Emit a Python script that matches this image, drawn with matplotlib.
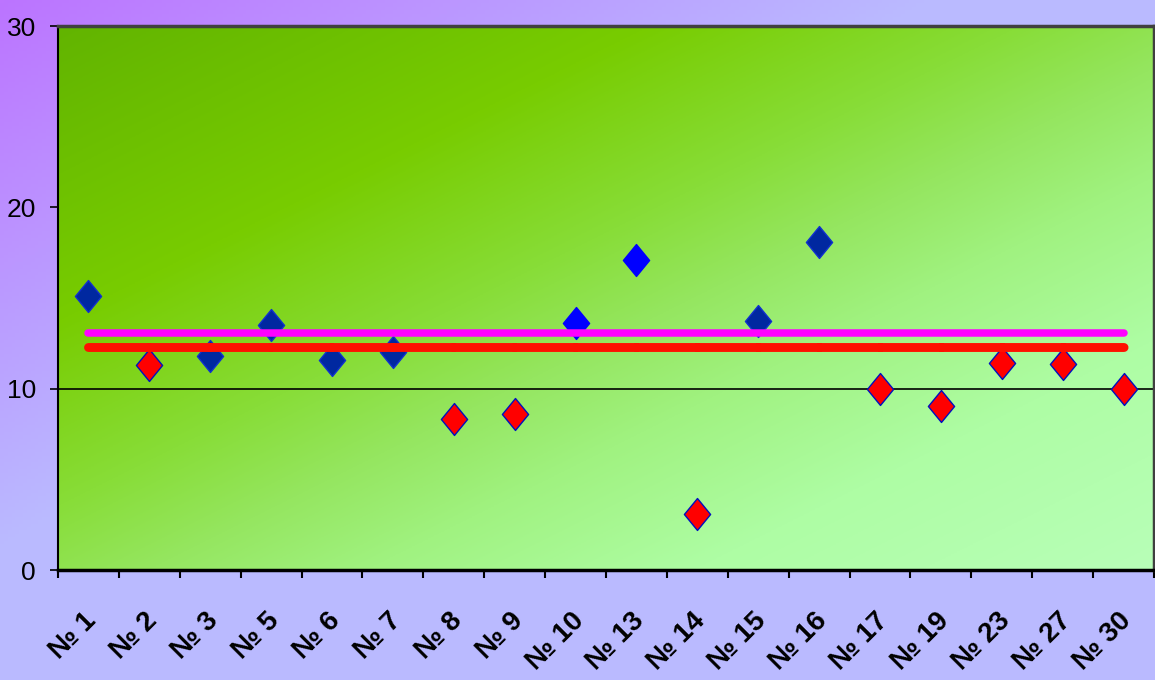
import numpy as np
import matplotlib
matplotlib.use('Agg')
from matplotlib import pyplot as plt
from matplotlib.path import Path
from matplotlib.transforms import ScaledTranslation

plt.rcParams['font.family'] = ['Liberation Sans', 'DejaVu Sans']
plt.rcParams['lines.scale_dashes'] = False

categories = ['№ 1', '№ 2', '№ 3', '№ 5', '№ 6', '№ 7', '№ 8', '№ 9', '№ 10',
              '№ 13', '№ 14', '№ 15', '№ 16', '№ 17', '№ 19', '№ 23', '№ 27', '№ 30']
values = [15.1, 11.3, 11.8, 13.5, 11.6, 12.0, 8.3, 8.6, 13.6,
          17.1, 3.1, 13.75, 18.1, 10.0, 9.05, 11.4, 11.35, 10.0]
# группа маркера: 'dark', 'bright', 'red'
groups = ['dark', 'red', 'dark', 'dark', 'dark', 'dark', 'red', 'red', 'bright',
          'bright', 'red', 'dark', 'dark', 'red', 'red', 'red', 'red', 'red']
level_top = 13.05
level_low = 12.28
y_ticks = [0, 10, 20, 30]

W, H = 1155, 680
fig = plt.figure(figsize=(W / 100, H / 100), dpi=100)

# фон рисунка: фиолетовый в левом верхнем углу -> лавандовый
bg = fig.add_axes([0, 0, 1, 1], zorder=-10)
gx, gy = np.meshgrid(np.linspace(0, 1, 300), np.linspace(0, 1, 200))
t = np.clip((gx + gy) / 0.8, 0, 1)[..., None]
purple = np.array([188, 116, 255]) / 255
lav = np.array([186, 186, 255]) / 255
bg.imshow(purple * (1 - t) + lav * t, aspect='auto', extent=(0, 1, 1, 0))
bg.axis('off')

ax = fig.add_axes([58 / W, 1 - 570 / H, 1096 / W, 544 / H])
ax.set_xlim(-0.5, len(categories) - 0.5)
ax.set_ylim(0, 30)

# градиент области построения
px, py = np.meshgrid(np.linspace(0, 1096, 400), np.linspace(0, 544, 200))
s = (px + 2 * py) / (1096 + 2 * 544)
stops = [0.0, 0.27, 0.44, 0.54, 0.64, 0.79, 1.0]
cols = np.array([[0x62, 0xB4, 0x00], [0x78, 0xCC, 0x00], [0x88, 0xDD, 0x38],
                 [0x95, 0xE6, 0x60], [0xA0, 0xF2, 0x80], [0xAE, 0xFD, 0xA4],
                 [0xB8, 0xFF, 0xB8]]) / 255
img = np.stack([np.interp(s, stops, cols[:, k]) for k in range(3)], axis=-1)
ax.imshow(img, aspect='auto', extent=(-0.5, len(categories) - 0.5, 0, 30),
          origin='upper', zorder=0)

ax.axhline(10, color='black', lw=1.2, zorder=1)

diamond = Path([(0, 1), (0.82, 0), (0, -1), (-0.82, 0), (0, 1)],
               [Path.MOVETO, Path.LINETO, Path.LINETO, Path.LINETO, Path.CLOSEPOLY])
styles = {'dark': ('#0028A0', '#1030D0'),
          'bright': ('#0000FF', '#0000FF'),
          'red': ('#FF0000', '#0010C0')}
x = np.arange(len(categories))
for g, (fc, ec) in styles.items():
    idx = [i for i, gg in enumerate(groups) if gg == g]
    ax.plot(x[idx], [values[i] for i in idx], linestyle='none', marker=diamond,
            markersize=23, markerfacecolor=fc, markeredgecolor=ec,
            markeredgewidth=1.0, zorder=3)

ax.plot(x, [level_top] * len(x), color='#FF00FF', lw=5.4,
        solid_capstyle='round', zorder=4)
ax.plot(x, [level_low] * len(x), color='#FF1000', lw=6.4,
        dashes=(43.2, 0.7), dash_capstyle='round', zorder=4)

ax.set_yticks(y_ticks)
ax.set_yticklabels([str(v) for v in y_ticks], fontsize=19)
ax.tick_params(axis='y', length=6, width=1.2, pad=10, colors='black')

ax.set_xticks(x)
ax.set_xticklabels(categories, rotation=45, ha='right', va='top',
                   rotation_mode='anchor', fontsize=20, fontweight='bold')
ax.tick_params(axis='x', which='major', length=0, pad=23)
ax.set_xticks(np.arange(-0.5, len(categories), 1), minor=True)
ax.tick_params(axis='x', which='minor', length=6, width=1.5, color='black')

# сдвиг подписей чуть левее и ниже
off = ScaledTranslation(-5 / 100, -6 / 100, fig.dpi_scale_trans)
for lbl in ax.get_xticklabels():
    lbl.set_transform(lbl.get_transform() + off)

for side in ['top', 'right']:
    ax.spines[side].set_color('#404040')
    ax.spines[side].set_linewidth(2.5)
ax.spines['left'].set_color('black')
ax.spines['left'].set_linewidth(1.5)
ax.spines['bottom'].set_color('black')
ax.spines['bottom'].set_linewidth(2.5)

fig.savefig('out.png', dpi=100)
